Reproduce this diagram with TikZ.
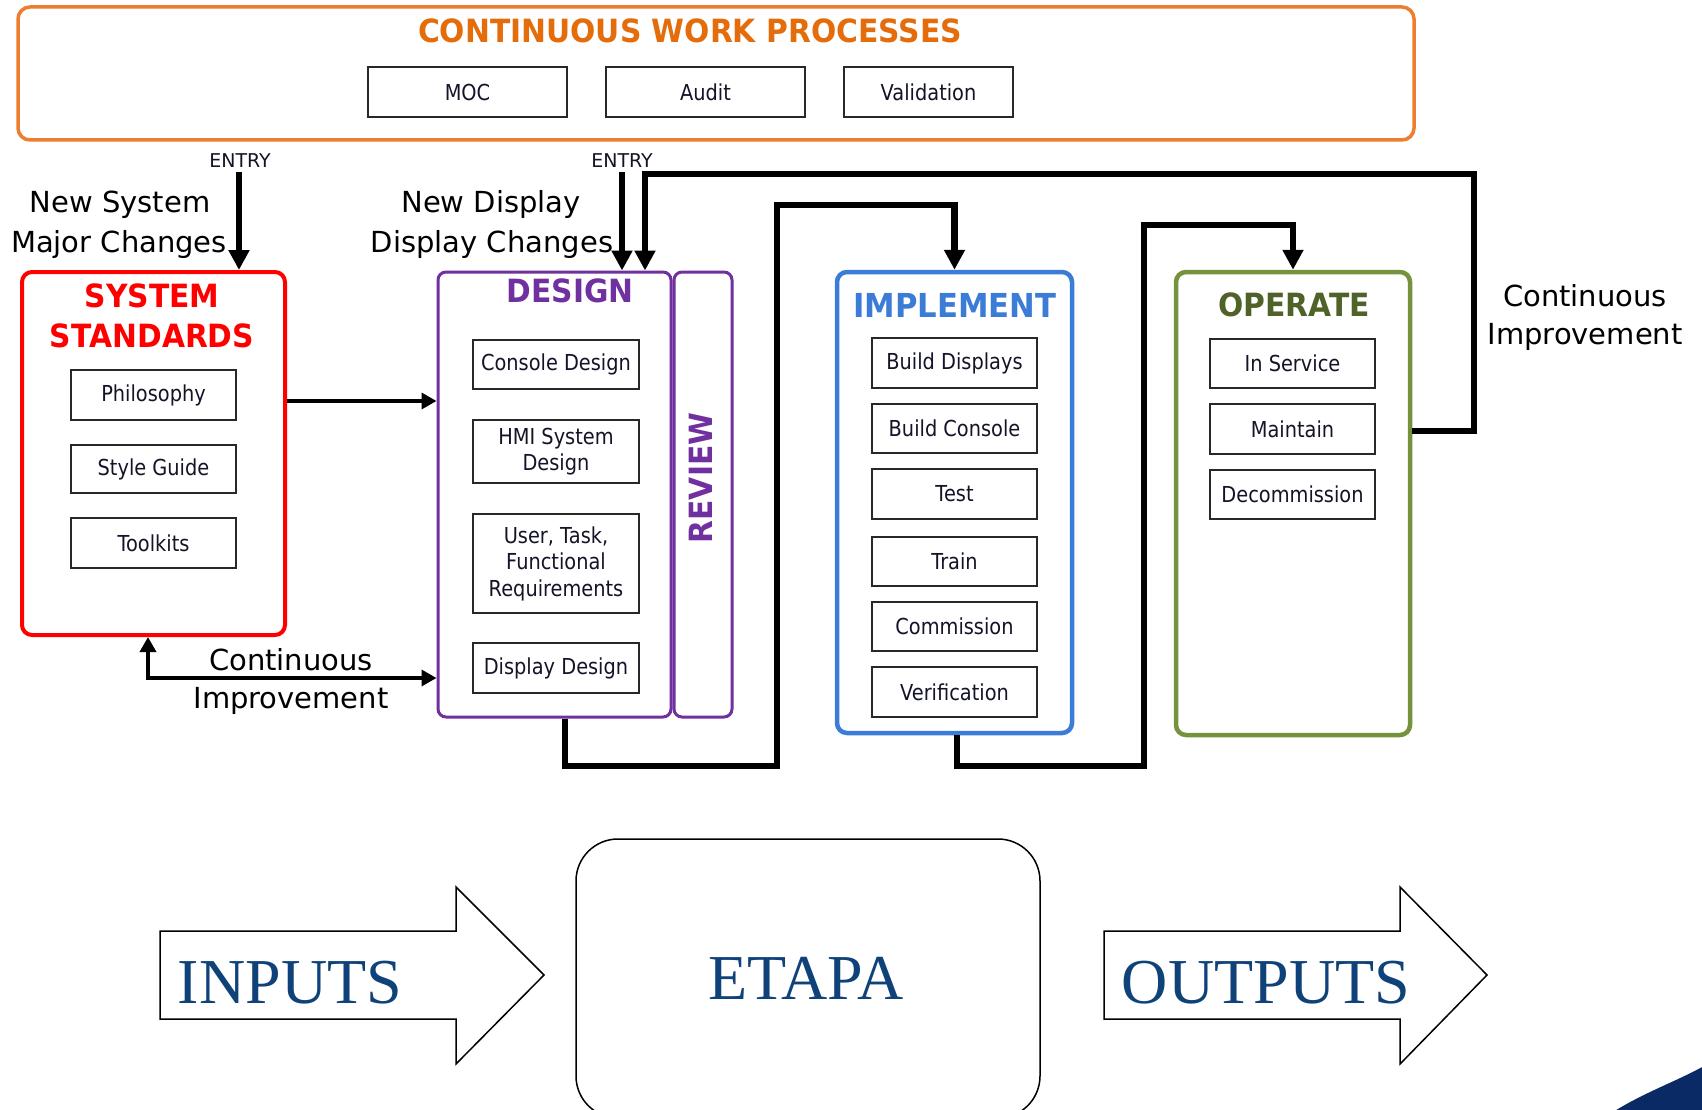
\documentclass[tikz,border=0pt]{standalone}
\usepackage{fontspec}
\usetikzlibrary{arrows.meta}
\newfontfamily\tah{DejaVu Sans}[FakeStretch=0.88]
\newfontfamily\ver{DejaVu Sans}
\newfontfamily\ttl{DejaVu Sans}[FakeStretch=0.93]
\newfontfamily\tms{Liberation Serif}
\definecolor{cwporange}{RGB}{237,125,49}
\definecolor{cwptext}{RGB}{228,108,10}
\definecolor{ssred}{RGB}{255,0,0}
\definecolor{depurple}{RGB}{112,48,160}
\definecolor{imblue}{RGB}{58,124,214}
\definecolor{opgreen}{RGB}{118,146,60}
\definecolor{optext}{RGB}{79,98,40}
\definecolor{boxline}{RGB}{40,40,40}
\definecolor{boxtext}{RGB}{20,20,40}
\definecolor{etblue}{RGB}{16,66,122}
\definecolor{swoosh}{RGB}{10,42,102}
\tikzset{
  subbox/.style={draw=boxline, line width=1.5pt, minimum width=165pt, minimum height=50pt,
    inner sep=0pt, align=center, text=boxtext, font=\tah\fontsize{22}{26.5}\selectfont},
  container/.style={line width=4pt, rounded corners=10pt, inner sep=0pt},
  titletxt/.style={font=\ttl\bfseries\fontsize{32}{40}\selectfont, anchor=base, inner sep=0pt},
  biglabel/.style={font=\ver\fontsize{29}{38}\selectfont, anchor=base, inner sep=0pt, text=black},
  entrylabel/.style={font=\ver\fontsize{19}{22}\selectfont, anchor=base, inner sep=0pt, text=boxtext},
  thickarrow/.style={line width=6.5pt, -{Triangle[length=20pt,width=20pt]}},
  thinarrow/.style={line width=3.5pt, -{Triangle[length=15pt,width=16pt]}},
  bigarrow/.style={draw=black, line width=1.5pt, fill=white, line join=miter},
  bigtext/.style={font=\tms\fontsize{64}{70}\selectfont, text=etblue, anchor=base, inner sep=0pt},
}
\begin{document}
\begin{tikzpicture}[x=1pt,y=-1pt]
\useasboundingbox (0,0) rectangle (1702,1110);
\clip (0,0) rectangle (1702,1110);
\fill[white] (0,0) rectangle (1702,1110);

% ---------- continuous work processes ----------
\node[container, draw=cwporange, line width=3.5pt, rounded corners=12pt,
      minimum width=1396pt, minimum height=133pt] (cwp) at (716,73.5) {};
\node[titletxt, text=cwptext] (cwpt) at (690,43) {CONTINUOUS WORK PROCESSES};
\node[subbox, minimum width=199pt] (moc) at (467.5,92) {MOC};
\node[subbox, minimum width=199pt] (audit) at (705.5,92) {Audit};
\node[subbox, minimum width=169pt] (valid) at (928.5,92) {Validation};

% ---------- system standards ----------
\node[container, draw=ssred, minimum width=263pt, minimum height=363pt] (ss) at (153.5,453.5) {};
\node[titletxt, text=ssred] (sst1) at (152,307) {SYSTEM};
\node[titletxt, text=ssred] (sst2) at (152,347) {STANDARDS};
\node[subbox] (phil) at (153.5,395) {Philosophy};
\node[subbox, minimum height=48pt] (style) at (153.5,469) {Style Guide};
\node[subbox] (tool) at (153.5,543) {Toolkits};

% ---------- design / review ----------
\node[container, draw=depurple, line width=3pt, rounded corners=8pt,
      minimum width=233pt, minimum height=445pt] (de) at (554.5,494.5) {};
\node[container, draw=depurple, line width=3pt, rounded corners=8pt,
      minimum width=58pt, minimum height=445pt] (rev) at (703,494.5) {};
\node[titletxt, text=depurple] (det) at (570,302) {DESIGN};
\node[font=\ttl\bfseries\fontsize{32}{40}\selectfont, text=depurple, rotate=90, inner sep=0pt] (revt) at (701,478) {REVIEW};
\node[subbox, minimum width=166pt, minimum height=49pt] (cons) at (556,364.5) {Console Design};
\node[subbox, minimum width=166pt, minimum height=63pt] (hmi) at (556,451.5) {HMI System\\Design};
\node[subbox, minimum width=166pt, minimum height=99pt] (user) at (556,563.5) {User, Task,\\Functional\\Requirements};
\node[subbox, minimum width=166pt] (disp) at (556,668) {Display Design};

% ---------- implement ----------
\node[container, draw=imblue, line width=4.5pt, minimum width=235pt, minimum height=461pt] (im) at (954.5,502.5) {};
\node[titletxt, text=imblue, font=\ttl\bfseries\fontsize{33}{40}\selectfont] (imt) at (955,317) {IMPLEMENT};
\node[subbox] (bd) at (954.5,363) {Build Displays};
\node[subbox, minimum height=49pt] (bc) at (954.5,428.5) {Build Console};
\node[subbox] (test) at (954.5,494) {Test};
\node[subbox, minimum height=49pt] (train) at (954.5,561.5) {Train};
\node[subbox, minimum height=49pt] (comm) at (954.5,626.5) {Commission};
\node[subbox] (verif) at (954.5,692) {Verification};

% ---------- operate ----------
\node[container, draw=opgreen, line width=4.5pt, minimum width=234pt, minimum height=463pt] (op) at (1293,503.5) {};
\node[titletxt, text=optext] (opt) at (1294,316) {OPERATE};
\node[subbox, minimum height=49pt] (insv) at (1292.5,363.5) {In Service};
\node[subbox] (maint) at (1292.5,429) {Maintain};
\node[subbox, minimum height=49pt] (decom) at (1292.5,494.5) {Decommission};

% ---------- labels ----------
\node[entrylabel] (en1) at (240,168) {ENTRY};
\node[entrylabel] (en2) at (622,168) {ENTRY};
\node[biglabel] (ns1) at (120,213) {New System};
\node[biglabel] (ns2) at (119,252) {Major Changes};
\node[biglabel] (nd1) at (491,213) {New Display};
\node[biglabel] (nd2) at (492,252) {Display Changes};
\node[biglabel] (ci1) at (291,670) {Continuous};
\node[biglabel] (ci2) at (291,708) {Improvement};
\node[biglabel] (cr1) at (1585,306) {Continuous};
\node[biglabel] (cr2) at (1585,344) {Improvement};

% ---------- connectors ----------
\coordinate (e1) at (239,172);
\coordinate (e2) at (622,172);
\draw[thickarrow] (e1) -- (e1 |- ss.north);
\draw[thickarrow] (e2) -- (e2 |- de.north);
\coordinate (fbA) at (1474,431);
\coordinate (fbB) at (1474,174);
\coordinate (fbC) at (645,174);
\draw[thickarrow] (op.east |- fbA) -- (fbA) -- (fbB) -- (fbC) -- (fbC |- de.north);
\coordinate (dA) at (565,766);
\coordinate (dB) at (777,766);
\coordinate (dC) at (777,205);
\draw[thickarrow] (dA |- de.south) -- (dA) -- (dB) -- (dC) -- (im.north |- dC) -- (im.north);
\coordinate (iA) at (957,766);
\coordinate (iB) at (1144,766);
\coordinate (iC) at (1144,225);
\draw[thickarrow] (iA |- im.south) -- (iA) -- (iB) -- (iC) -- (op.north |- iC) -- (op.north);
\coordinate (sA) at (285,401);
\draw[thinarrow] (ss.east |- sA) -- (de.west |- sA);
\coordinate (cA) at (148,678);
\draw[line width=3.5pt, {Triangle[length=15pt,width=16pt]}-{Triangle[length=15pt,width=16pt]}]
  (cA |- ss.south) -- (cA) -- (de.west |- cA);

% ---------- bottom ----------
\draw[bigarrow] (160,931) -- (456,931) -- (456,887) -- (544,975) -- (456,1064) -- (456,1019) -- (160,1019) -- cycle;
\node[bigtext] (inp) at (290,1003) {INPUTS};
\node[draw=black, line width=1.5pt, rounded corners=42pt, minimum width=464pt, minimum height=279pt,
      inner sep=0pt] (etapa) at (808,978.5) {};
\node[bigtext] (etapat) at (806,999) {ETAPA};
\draw[bigarrow] (1104,931) -- (1400,931) -- (1400,887) -- (1487,975) -- (1400,1064) -- (1400,1019) -- (1104,1019) -- cycle;
\node[bigtext] (outp) at (1266,1003) {OUTPUTS};
\fill[swoosh] (1613,1112) .. controls (1645,1092) and (1675,1082) .. (1704,1066) -- (1704,1112) -- cycle;
\end{tikzpicture}
\end{document}
